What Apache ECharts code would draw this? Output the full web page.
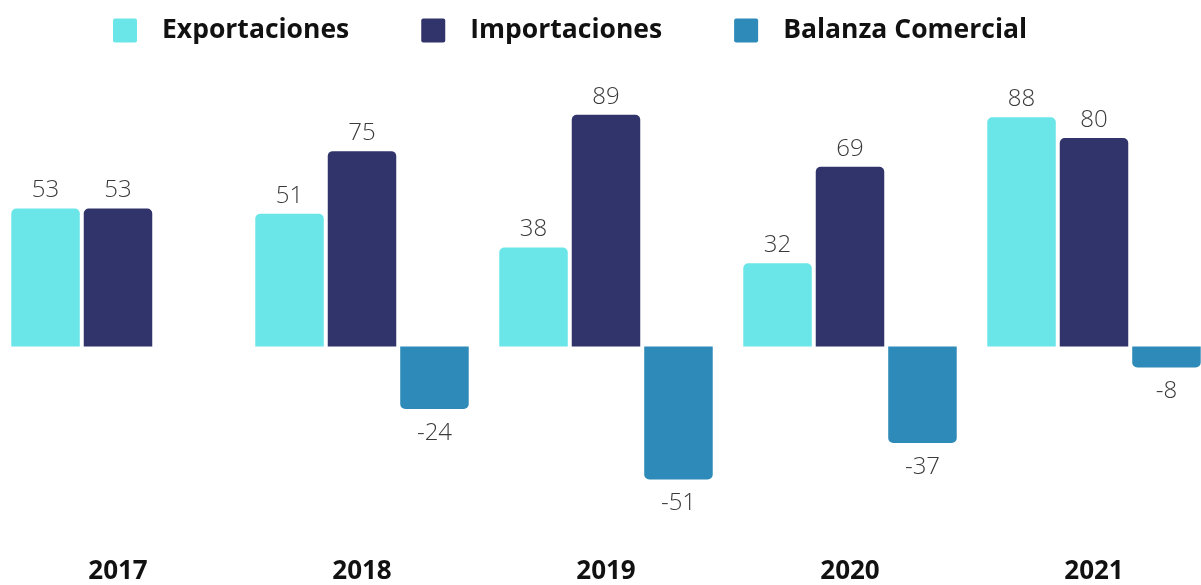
<!DOCTYPE html>
<html>
<head>
<meta charset="utf-8">
<script src="https://cdn.jsdelivr.net/npm/echarts@6/dist/echarts.min.js"></script>
<style>
  html, body { margin: 0; padding: 0; background: #ffffff; overflow: hidden; }
  /* plot runs slightly past both page edges */
  #chart { width: 1220px; height: 585px; margin-left: -4px; }
</style>
</head>
<body>
<div id="chart"></div>
<script>
// Trade figures per year
const years = ['2017', '2018', '2019', '2020', '2021'];
const exportaciones = [53, 51, 38, 32, 88];
const importaciones = [53, 75, 89, 69, 80];
const balanza = [null, -24, -51, -37, -8];

const seriesNames = ['Exportaciones', 'Importaciones', 'Balanza Comercial'];
const colors = ['#6ae6e8', '#31346b', '#2d8ab9'];

const FONT = '"Open Sans", "Noto Sans", sans-serif';

// Round the outer end of each bar and put its label beyond that end
function toItems(values) {
  return values.map(v => {
    if (v === null) return { value: null };
    const neg = v < 0;
    return {
      value: v,
      itemStyle: { borderRadius: neg ? [0, 0, 5, 5] : [5, 5, 0, 0] },
      label: { position: neg ? 'bottom' : 'top', distance: neg ? 12 : 6 }
    };
  });
}

function barSeries(name, values, color) {
  return {
    name: name,
    type: 'bar',
    data: toItems(values),
    barWidth: 68.5,
    barGap: '5.8%',
    itemStyle: { color: color },
    label: {
      show: true,
      fontFamily: FONT,
      fontSize: 24,
      fontWeight: 300,
      color: '#3a3a3a'
    },
    emphasis: { disabled: true }
  };
}

const chart = echarts.init(document.getElementById('chart'), null, { renderer: 'canvas' });
chart.setOption({
  animation: false,
  color: colors,
  legend: {
    left: 112,
    top: 12,
    itemWidth: 24,
    itemHeight: 24,
    itemGap: 72,
    icon: 'path://M2,0 L22,0 Q24,0 24,2 L24,22 Q24,24 22,24 L2,24 Q0,24 0,22 L0,2 Q0,0 2,0 Z',
    textStyle: {
      fontFamily: FONT,
      fontSize: 26.5,
      fontWeight: 'bold',
      color: '#111111',
      padding: [0, 0, 3, 20]
    },
    data: seriesNames
  },
  grid: {
    left: 0,
    right: 0,
    top: 86,
    bottom: 27.4
  },
  xAxis: {
    type: 'category',
    data: years,
    axisLine: { show: false, onZero: false },
    axisTick: { show: false },
    axisLabel: {
      margin: 4,
      fontFamily: FONT,
      fontSize: 26,
      fontWeight: 'bold',
      color: '#111111'
    }
  },
  yAxis: {
    type: 'value',
    min: -80,
    max: 100,
    show: false,
    splitLine: { show: false }
  },
  series: [
    barSeries(seriesNames[0], exportaciones, colors[0]),
    barSeries(seriesNames[1], importaciones, colors[1]),
    barSeries(seriesNames[2], balanza, colors[2])
  ]
});
</script>
</body>
</html>
